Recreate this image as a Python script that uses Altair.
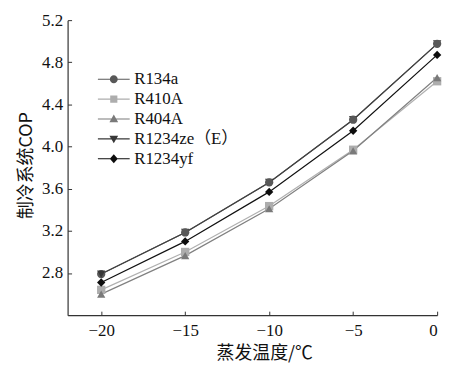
import altair as alt
import pandas as pd

temps = [-20, -15, -10, -5, 0]
series = ["R134a", "R410A", "R404A", "R1234ze（E）", "R1234yf"]
r134a = [2.79, 3.185, 3.66, 4.255, 4.975]
r410a = [2.64, 3.00, 3.435, 3.97, 4.62]
r404a = [2.60, 2.965, 3.41, 3.96, 4.655]
r1234ze = [2.79, 3.185, 3.66, 4.255, 4.975]
r1234yf = [2.71, 3.10, 3.57, 4.15, 4.87]

values = [r134a, r410a, r404a, r1234ze, r1234yf]
colors = ["#585858", "#adadad", "#7a7a7a", "#383838", "#0d0d0d"]
line_colors = ["#606060", "#b0b0b0", "#808080", "#404040", "#111111"]
shapes = ["circle", "square", "triangle-up", "triangle-down", "diamond"]

seg = "M-4,-0.14L4,-0.14L4,0.14L-4,0.14Z"
legend_shapes = [
    seg + "M1,0A1,1,0,1,1,-1,0A1,1,0,1,1,1,0Z",
    seg + "M-0.9,-0.9L0.9,-0.9L0.9,0.9L-0.9,0.9Z",
    seg + "M0,-1.1L1.1,0.8L-1.1,0.8Z",
    seg + "M-1.1,-0.8L1.1,-0.8L0,1.1Z",
    seg + "M0,-1.15L1,0L0,1.15L-1,0Z",
]

rows = []
for s, vals in zip(series, values):
    for t, v in zip(temps, vals):
        rows.append({"t": t, "cop": v, "s": s})
df = pd.DataFrame(rows)

FONT = "Liberation Serif, Noto Sans CJK SC"
CJK = "Noto Sans CJK SC"
W, H = 372, 297
yticks = [2.8, 3.2, 3.6, 4.0, 4.4, 4.8, 5.2]

xscale = alt.Scale(domain=[-22, 0], nice=False, zero=False)
yscale = alt.Scale(domain=[2.4, 5.2], nice=False, zero=False)

base = alt.Chart(df)

main_x = alt.Axis(values=temps, ticks=False, grid=False, title="蒸发温度/℃",
                  labelPadding=7, titleFont=CJK, titleFontSize=18,
                  titleFontWeight="normal", titleX=198, titleY=30, titleBaseline="top")
main_y = alt.Axis(values=yticks, format=".1f", ticks=False, grid=False,
                  title="制冷系统COP", labelPadding=5, titleFont=CJK, titleFontSize=18,
                  titleFontWeight="normal", titleY=146, titleX=-32)
tick_x = alt.Axis(orient="top", offset=-H, values=temps, labels=False, domain=False,
                  ticks=True, tickSize=4, grid=False, title=None)
tick_y = alt.Axis(orient="right", offset=-W, values=yticks, labels=False, domain=False,
                  ticks=True, tickSize=4, grid=False, title=None)

layers = []
for i, s in enumerate(series):
    ax_x = main_x if i == 0 else None
    ax_y = main_y if i == 0 else None
    layers.append(
        base.transform_filter(alt.datum.s == s).mark_line(
            strokeWidth=1.2, color=line_colors[i]
        ).encode(
            x=alt.X("t:Q", scale=xscale, axis=ax_x),
            y=alt.Y("cop:Q", scale=yscale, axis=ax_y),
        )
    )

ze = series[3]
point_specs = [(ze, alt.datum.t != -20)] + [
    (s, None) for s in series if s != ze
] + [(ze, alt.datum.t == -20)]
for j, (s, extra) in enumerate(point_specs):
    i = series.index(s)
    ch = base.transform_filter(alt.datum.s == s)
    if extra is not None:
        ch = ch.transform_filter(extra)
    layers.append(
        ch.mark_point(filled=True, size=70, opacity=1, shape=shapes[i], color=colors[i]).encode(
            x=alt.X("t:Q", scale=xscale, axis=tick_x if j == 0 else None),
            y=alt.Y("cop:Q", scale=yscale, axis=tick_y if j == 0 else None),
        )
    )

leg = alt.Legend(title=None, orient="none", legendX=38, legendY=51,
                 symbolSize=64, symbolOpacity=1, symbolStrokeWidth=0,
                 labelOffset=12, labelFontSize=17, labelFont=FONT,
                 labelColor="#111", rowPadding=2, padding=0)

layers.append(
    base.mark_point(filled=True, opacity=0).encode(
        x=alt.X("t:Q", scale=xscale, axis=None),
        y=alt.Y("cop:Q", scale=yscale, axis=None),
        color=alt.Color("s:N", scale=alt.Scale(domain=series, range=colors), legend=leg),
        shape=alt.Shape("s:N", scale=alt.Scale(domain=series, range=legend_shapes), legend=leg),
    )
)

chart = alt.layer(*layers).resolve_axis(x="independent", y="independent").properties(
    width=W, height=H,
    background="white",
    autosize=alt.AutoSizeParams(type="none"),
    padding={"left": 60, "top": 11, "right": 20, "bottom": 55},
).configure_view(stroke=None).configure_axis(
    labelFont=FONT, labelFontSize=17, labelColor="#111", domainColor="#333",
    tickColor="#333", titleColor="#111", domainWidth=1.2,
)

chart.save("out.html", embed_options={"renderer": "svg", "actions": False})
